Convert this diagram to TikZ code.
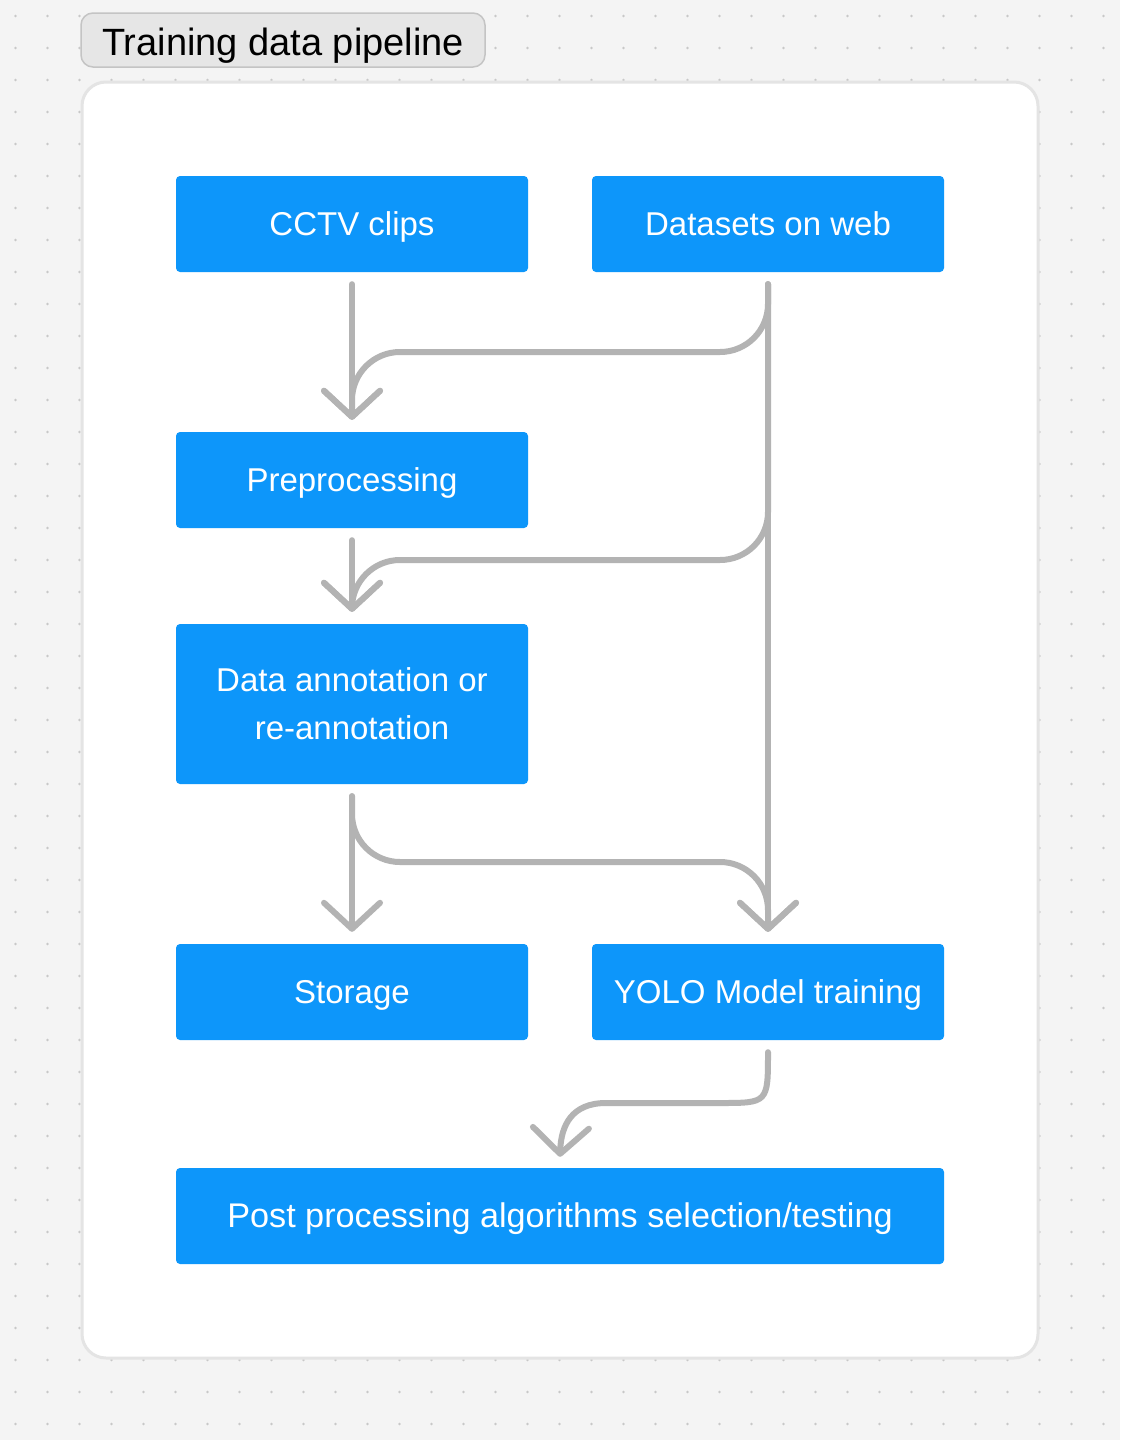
\documentclass[tikz,border=0pt]{standalone}
\usepackage{fontspec}
\setmainfont{Liberation Sans}
\usetikzlibrary{arrows.meta,calc}
\definecolor{bgc}{HTML}{F4F4F4}
\definecolor{dotc}{HTML}{C8C8C8}
\definecolor{boxblue}{HTML}{0D96FA}
\definecolor{conng}{HTML}{B3B3B3}
\definecolor{titlefill}{HTML}{E6E6E6}
\definecolor{titledraw}{HTML}{C4C4C4}
\definecolor{contdraw}{HTML}{E4E4E4}
\tikzset{
  stepbox/.style={fill=boxblue, rounded corners=4pt, minimum width=352pt, minimum height=96pt,
    inner sep=0pt, text=white, align=center, font=\fontsize{33}{48}\selectfont},
  oneline/.style={text height=30pt, text depth=6.4pt},
  conn/.style={draw=conng, line width=6pt, line cap=round, line join=round,
    -{Straight Barb[length=26pt, width=56pt, line cap=round, line join=round]}},
  turn/.style={rounded corners=48pt}
}
\begin{document}
\begin{tikzpicture}[x=1pt, y=-1pt]
\useasboundingbox (0,0) rectangle (1120,1440);
\fill[bgc] (0,0) rectangle (1120,1440);
\foreach \i in {0,...,34} {
  \foreach \j in {0,...,44} {
    \fill[dotc] (15.5+32*\i, 16+32*\j) circle (1.4pt);
  }
}
% container
\draw[contdraw, fill=white, line width=3pt, rounded corners=24pt] (82,82) rectangle (1038,1358);
% title
\node[fill=titlefill, draw=titledraw, line width=1.5pt, rounded corners=12pt,
  minimum width=404pt, minimum height=54pt, inner sep=0pt,
  text height=36pt, text depth=6pt,
  font=\fontsize{38}{44}\selectfont] (title) at (283,40) {Training data pipeline};
% boxes
\node[stepbox, oneline] (cctv) at (352,224) {CCTV clips};
\node[stepbox, oneline] (web) at (768,224) {Datasets on web};
\node[stepbox, oneline] (pre) at (352,480) {Preprocessing};
\node[stepbox, minimum height=160pt] (ann) at (352,704) {Data annotation or\\re-annotation};
\node[stepbox, oneline] (stor) at (352,992) {Storage};
\node[stepbox, oneline] (yolo) at (768,992) {YOLO Model training};
\node[stepbox, oneline, minimum width=768pt, font=\fontsize{34.2}{48}\selectfont] (post) at (560,1216) {Post processing algorithms selection/testing};
% bus levels
\coordinate (h1) at (0,352);
\coordinate (h2) at (0,560);
\coordinate (h3) at (0,862);
% connectors
\draw[conn] ([yshift=-12pt]cctv.south) -- ([yshift=12pt]pre.north);
\draw[conn, turn] ([yshift=-12pt]web.south) -- (web.south |- h1) -- (pre.north |- h1) -- ([yshift=12pt]pre.north);
\draw[conn] ([yshift=-12pt]web.south) -- ([yshift=12pt]yolo.north);
\draw[conn] ([yshift=-12pt]pre.south) -- ([yshift=12pt]ann.north);
\draw[conn, turn] ([yshift=-12pt]web.south) -- (web.south |- h2) -- (ann.north |- h2) -- ([yshift=12pt]ann.north);
\draw[conn] ([yshift=-12pt]ann.south) -- ([yshift=12pt]stor.north);
\draw[conn, turn] ([yshift=-12pt]ann.south) -- (ann.south |- h3) -- (yolo.north |- h3) -- ([yshift=12pt]yolo.north);
\coordinate (p1) at (720,1103);
\coordinate (p2) at (606,1103);
\draw[conn] ([yshift=-12pt]yolo.south) .. controls (768,1103) .. (p1) -- (p2)
  .. controls (572,1103) and (561,1125) .. ([yshift=11pt]post.north);
\end{tikzpicture}
\end{document}
